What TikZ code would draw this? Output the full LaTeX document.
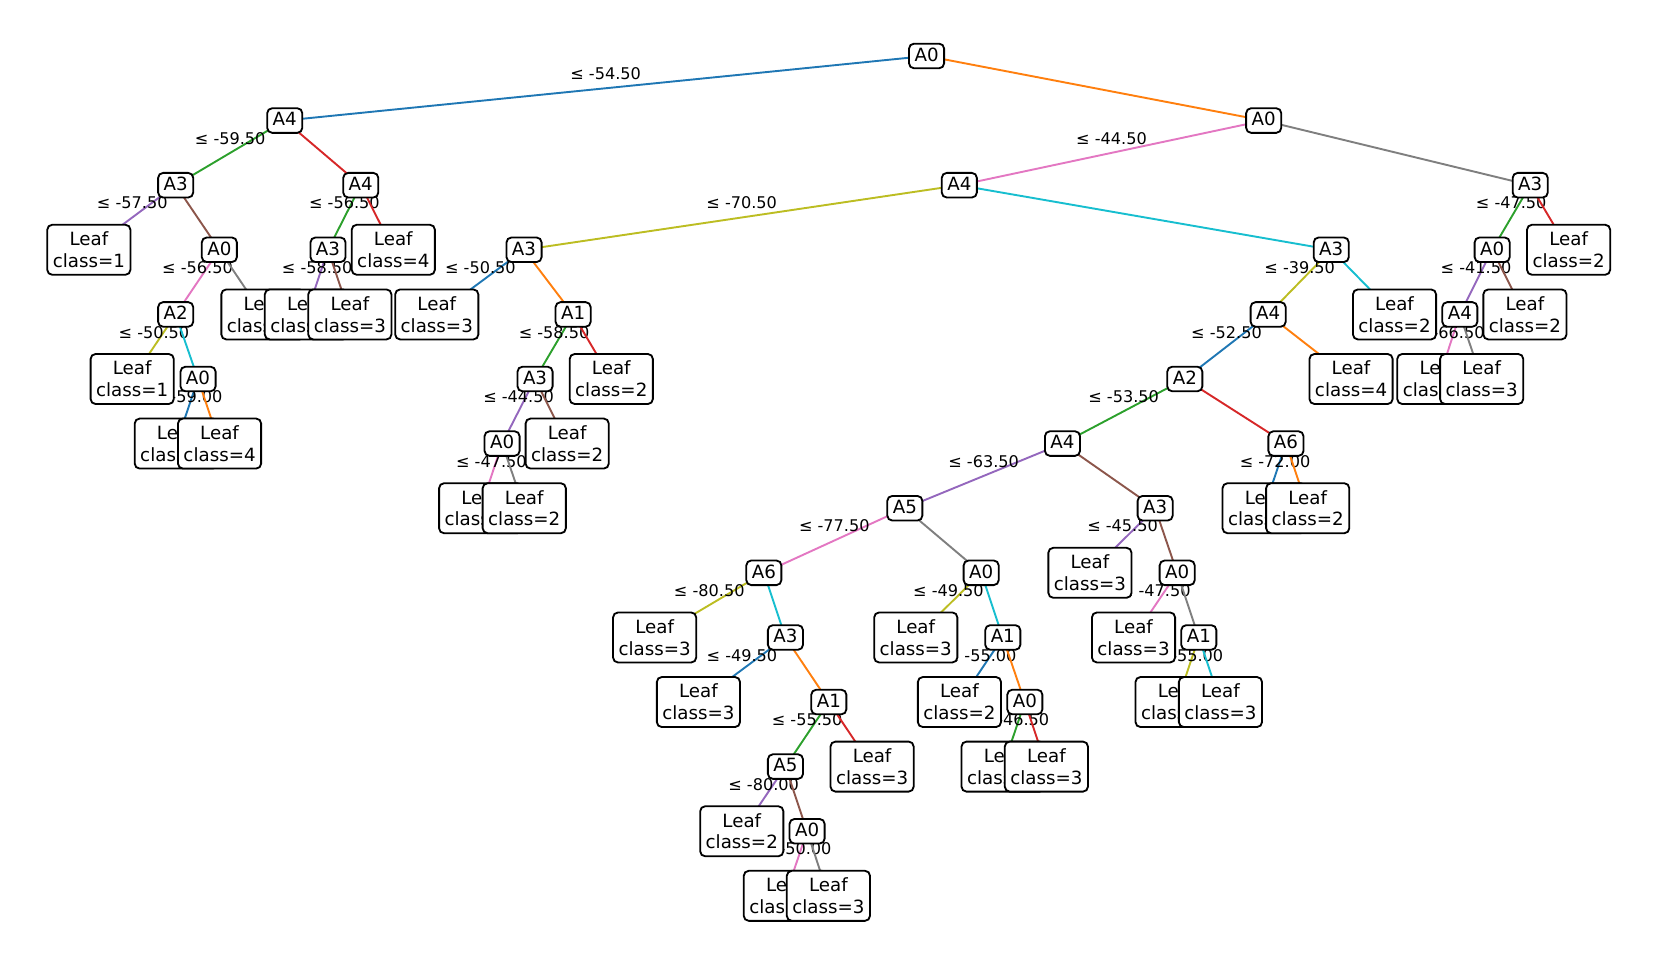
\documentclass[tikz,border=0pt]{standalone}
\usepackage{fontspec}
\setmainfont{DejaVu Sans}
\usetikzlibrary{backgrounds}
\definecolor{TabBlue}{HTML}{1F77B4}
\definecolor{TabOrange}{HTML}{FF7F0E}
\definecolor{TabGreen}{HTML}{2CA02C}
\definecolor{TabRed}{HTML}{D62728}
\definecolor{TabPurple}{HTML}{9467BD}
\definecolor{TabBrown}{HTML}{8C564B}
\definecolor{TabPink}{HTML}{E377C2}
\definecolor{TabGray}{HTML}{7F7F7F}
\definecolor{TabOlive}{HTML}{BCBD22}
\definecolor{TabCyan}{HTML}{17BECF}

\begin{document}
\begin{tikzpicture}[x=0.75pt,y=0.75pt,yscale=-1,xscale=1,
  testbox/.style={draw=black,fill=white,line width=1.3pt,rounded corners=3.5pt,inner xsep=3.9pt,inner ysep=4.1pt,text height=0.84em,text depth=0.08em,font=\fontsize{12.9}{15.4}\selectfont},
  leafbox/.style={draw=black,fill=white,line width=1.3pt,rounded corners=3.5pt,inner xsep=3.9pt,inner ysep=5pt,align=center,font=\fontsize{12.9}{15.4}\selectfont},
  thrlabel/.style={inner sep=0pt,text height=0.73em,text depth=0pt,yshift=9.75pt,font=\fontsize{11.4}{13}\selectfont},
  branch/.style={line width=1.35pt}]
%set diagram size
\path[use as bounding box] (0,0) rectangle (1563,899);

% Text Node
\node[testbox] (n0) at (874,52.8) {A0};
% Text Node
\node[testbox] (n1) at (268.6,113.7) {A4};
\node[testbox] (n2) at (165.7,174.7) {A3};
\node[leafbox] (n3) at (83.8,235.6) {Leaf\\class=1};
\node[testbox] (n4) at (206.9,235.6) {A0};
\node[testbox] (n5) at (165.7,296.6) {A2};
\node[leafbox] (n6) at (124.7,357.5) {Leaf\\class=1};
\node[testbox] (n7) at (186.8,357.5) {A0};
\node[leafbox] (n8) at (166.3,418.4) {Leaf\\class=3};
\node[leafbox] (n9) at (207.1,418.4) {Leaf\\class=4};
\node[leafbox] (n10) at (248,296.6) {Leaf\\class=2};
\node[testbox] (n11) at (340.3,174.7) {A4};
\node[testbox] (n12) at (309.4,235.6) {A3};
\node[leafbox] (n13) at (289,296.6) {Leaf\\class=4};
\node[leafbox] (n14) at (330,296.6) {Leaf\\class=3};
\node[leafbox] (n15) at (371,235.6) {Leaf\\class=4};
% Text Node
\node[testbox] (n16) at (1192,113.7) {A0};
\node[testbox] (n17) at (904.9,174.7) {A4};
\node[testbox] (n18) at (494.3,235.6) {A3};
\node[leafbox] (n19) at (412,296.6) {Leaf\\class=3};
\node[testbox] (n20) at (540.6,296.6) {A1};
\node[testbox] (n21) at (504.7,357.5) {A3};
\node[testbox] (n22) at (473.6,418.4) {A0};
\node[leafbox] (n23) at (453.4,479.4) {Leaf\\class=3};
\node[leafbox] (n24) at (494.5,479.4) {Leaf\\class=2};
\node[leafbox] (n25) at (535,418.4) {Leaf\\class=2};
\node[leafbox] (n26) at (576.6,357.5) {Leaf\\class=2};
\node[testbox] (n27) at (1255.7,235.6) {A3};
\node[testbox] (n28) at (1196.2,296.6) {A4};
\node[testbox] (n29) at (1117.6,357.5) {A2};
\node[testbox] (n30) at (1002.2,418.4) {A4};
\node[testbox] (n31) at (853.5,479.4) {A5};
\node[testbox] (n32) at (720.5,540.3) {A6};
\node[leafbox] (n33) at (617.5,601.3) {Leaf\\class=3};
\node[testbox] (n34) at (740.9,601.3) {A3};
\node[leafbox] (n35) at (658.8,662.2) {Leaf\\class=3};
\node[testbox] (n36) at (781.8,662.2) {A1};
\node[testbox] (n37) at (740.9,723.1) {A5};
\node[leafbox] (n38) at (699.7,784.1) {Leaf\\class=2};
\node[testbox] (n39) at (761.3,784.1) {A0};
\node[leafbox] (n40) at (740.8,845) {Leaf\\class=2};
\node[leafbox] (n41) at (781.4,845) {Leaf\\class=3};
\node[leafbox] (n42) at (822.6,723.1) {Leaf\\class=3};
\node[testbox] (n43) at (925.5,540.3) {A0};
\node[leafbox] (n44) at (863.8,601.3) {Leaf\\class=3};
\node[testbox] (n45) at (945.9,601.3) {A1};
\node[leafbox] (n46) at (905,662.2) {Leaf\\class=2};
\node[testbox] (n47) at (966.7,662.2) {A0};
\node[leafbox] (n48) at (946.2,723.1) {Leaf\\class=2};
\node[leafbox] (n49) at (987,723.1) {Leaf\\class=3};
\node[testbox] (n50) at (1089.6,479.4) {A3};
\node[leafbox] (n51) at (1028.1,540.3) {Leaf\\class=3};
\node[testbox] (n52) at (1110.4,540.3) {A0};
\node[leafbox] (n53) at (1069.2,601.3) {Leaf\\class=3};
\node[testbox] (n54) at (1130.8,601.3) {A1};
\node[leafbox] (n55) at (1110.3,662.2) {Leaf\\class=4};
\node[leafbox] (n56) at (1151.2,662.2) {Leaf\\class=3};
\node[testbox] (n57) at (1213,418.4) {A6};
\node[leafbox] (n58) at (1192.4,479.4) {Leaf\\class=4};
\node[leafbox] (n59) at (1233.5,479.4) {Leaf\\class=2};
\node[leafbox] (n60) at (1274.4,357.5) {Leaf\\class=4};
\node[leafbox] (n61) at (1315.4,296.6) {Leaf\\class=2};
\node[testbox] (n62) at (1443.4,174.7) {A3};
\node[testbox] (n63) at (1407.5,235.6) {A0};
\node[testbox] (n64) at (1377,296.6) {A4};
\node[leafbox] (n65) at (1357.2,357.5) {Leaf\\class=2};
\node[leafbox] (n66) at (1397.6,357.5) {Leaf\\class=3};
\node[leafbox] (n67) at (1438.4,296.6) {Leaf\\class=2};
\node[leafbox] (n68) at (1479.6,235.6) {Leaf\\class=2};

\begin{scope}[on background layer]
%Straight Lines
\draw[branch,TabBlue] (n0.center) -- node[thrlabel,black]{≤ -54.50} (n1.center);
\draw[branch,TabOrange] (n0.center) -- (n16.center);
\draw[branch,TabGreen] (n1.center) -- node[thrlabel,black]{≤ -59.50} (n2.center);
\draw[branch,TabRed] (n1.center) -- (n11.center);
\draw[branch,TabPurple] (n2.center) -- node[thrlabel,black]{≤ -57.50} (n3.center);
\draw[branch,TabBrown] (n2.center) -- (n4.center);
\draw[branch,TabPink] (n4.center) -- node[thrlabel,black]{≤ -56.50} (n5.center);
\draw[branch,TabGray] (n4.center) -- (n10.center);
\draw[branch,TabOlive] (n5.center) -- node[thrlabel,black]{≤ -50.50} (n6.center);
\draw[branch,TabCyan] (n5.center) -- (n7.center);
\draw[branch,TabBlue] (n7.center) -- node[thrlabel,black]{≤ -59.00} (n8.center);
\draw[branch,TabOrange] (n7.center) -- (n9.center);
\draw[branch,TabGreen] (n11.center) -- node[thrlabel,black]{≤ -56.50} (n12.center);
\draw[branch,TabRed] (n11.center) -- (n15.center);
\draw[branch,TabPurple] (n12.center) -- node[thrlabel,black]{≤ -58.50} (n13.center);
\draw[branch,TabBrown] (n12.center) -- (n14.center);
%Straight Lines
\draw[branch,TabPink] (n16.center) -- node[thrlabel,black]{≤ -44.50} (n17.center);
\draw[branch,TabGray] (n16.center) -- (n62.center);
\draw[branch,TabOlive] (n17.center) -- node[thrlabel,black]{≤ -70.50} (n18.center);
\draw[branch,TabCyan] (n17.center) -- (n27.center);
\draw[branch,TabBlue] (n18.center) -- node[thrlabel,black]{≤ -50.50} (n19.center);
\draw[branch,TabOrange] (n18.center) -- (n20.center);
\draw[branch,TabGreen] (n20.center) -- node[thrlabel,black]{≤ -58.50} (n21.center);
\draw[branch,TabRed] (n20.center) -- (n26.center);
\draw[branch,TabPurple] (n21.center) -- node[thrlabel,black]{≤ -44.50} (n22.center);
\draw[branch,TabBrown] (n21.center) -- (n25.center);
\draw[branch,TabPink] (n22.center) -- node[thrlabel,black]{≤ -47.50} (n23.center);
\draw[branch,TabGray] (n22.center) -- (n24.center);
\draw[branch,TabOlive] (n27.center) -- node[thrlabel,black]{≤ -39.50} (n28.center);
\draw[branch,TabCyan] (n27.center) -- (n61.center);
\draw[branch,TabBlue] (n28.center) -- node[thrlabel,black]{≤ -52.50} (n29.center);
\draw[branch,TabOrange] (n28.center) -- (n60.center);
\draw[branch,TabGreen] (n29.center) -- node[thrlabel,black]{≤ -53.50} (n30.center);
\draw[branch,TabRed] (n29.center) -- (n57.center);
\draw[branch,TabPurple] (n30.center) -- node[thrlabel,black]{≤ -63.50} (n31.center);
\draw[branch,TabBrown] (n30.center) -- (n50.center);
\draw[branch,TabPink] (n31.center) -- node[thrlabel,black]{≤ -77.50} (n32.center);
\draw[branch,TabGray] (n31.center) -- (n43.center);
\draw[branch,TabOlive] (n32.center) -- node[thrlabel,black]{≤ -80.50} (n33.center);
\draw[branch,TabCyan] (n32.center) -- (n34.center);
\draw[branch,TabBlue] (n34.center) -- node[thrlabel,black]{≤ -49.50} (n35.center);
\draw[branch,TabOrange] (n34.center) -- (n36.center);
\draw[branch,TabGreen] (n36.center) -- node[thrlabel,black]{≤ -55.50} (n37.center);
\draw[branch,TabRed] (n36.center) -- (n42.center);
\draw[branch,TabPurple] (n37.center) -- node[thrlabel,black]{≤ -80.00} (n38.center);
\draw[branch,TabBrown] (n37.center) -- (n39.center);
\draw[branch,TabPink] (n39.center) -- node[thrlabel,black]{≤ -50.00} (n40.center);
\draw[branch,TabGray] (n39.center) -- (n41.center);
\draw[branch,TabOlive] (n43.center) -- node[thrlabel,black]{≤ -49.50} (n44.center);
\draw[branch,TabCyan] (n43.center) -- (n45.center);
\draw[branch,TabBlue] (n45.center) -- node[thrlabel,black]{≤ -55.00} (n46.center);
\draw[branch,TabOrange] (n45.center) -- (n47.center);
\draw[branch,TabGreen] (n47.center) -- node[thrlabel,black]{≤ -46.50} (n48.center);
\draw[branch,TabRed] (n47.center) -- (n49.center);
\draw[branch,TabPurple] (n50.center) -- node[thrlabel,black]{≤ -45.50} (n51.center);
\draw[branch,TabBrown] (n50.center) -- (n52.center);
\draw[branch,TabPink] (n52.center) -- node[thrlabel,black]{≤ -47.50} (n53.center);
\draw[branch,TabGray] (n52.center) -- (n54.center);
\draw[branch,TabOlive] (n54.center) -- node[thrlabel,black]{≤ -55.00} (n55.center);
\draw[branch,TabCyan] (n54.center) -- (n56.center);
\draw[branch,TabBlue] (n57.center) -- node[thrlabel,black]{≤ -72.00} (n58.center);
\draw[branch,TabOrange] (n57.center) -- (n59.center);
\draw[branch,TabGreen] (n62.center) -- node[thrlabel,black]{≤ -47.50} (n63.center);
\draw[branch,TabRed] (n62.center) -- (n68.center);
\draw[branch,TabPurple] (n63.center) -- node[thrlabel,black]{≤ -41.50} (n64.center);
\draw[branch,TabBrown] (n63.center) -- (n67.center);
\draw[branch,TabPink] (n64.center) -- node[thrlabel,black]{≤ -66.50} (n65.center);
\draw[branch,TabGray] (n64.center) -- (n66.center);
\end{scope}

\end{tikzpicture}
\end{document}
